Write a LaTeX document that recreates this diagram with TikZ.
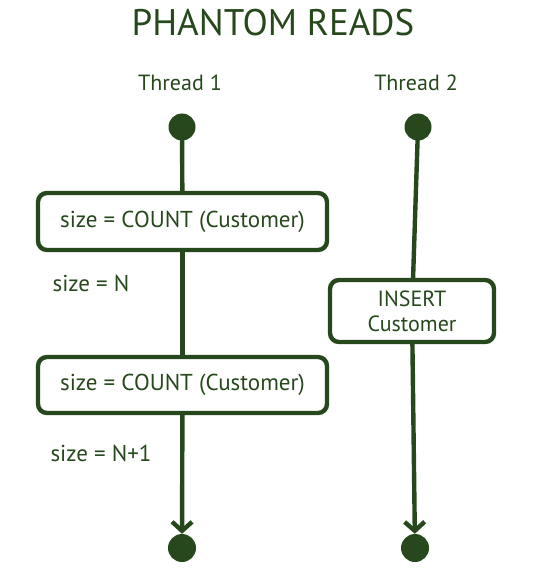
\documentclass[tikz,border=0pt]{standalone}
\usepackage{fontspec}
\setmainfont{PT Sans}
\usetikzlibrary{arrows.meta}
\definecolor{ink}{RGB}{38,72,28}
\begin{document}
\begin{tikzpicture}[x=1pt,y=-1pt,
  every node/.style={text=ink},
  flow/.style={draw=ink,line width=4.4pt,line cap=round},
  stepbox/.style={draw=ink,line width=4.4pt,rounded corners=9pt,inner sep=0pt,align=center,
    font=\fontsize{23}{25}\selectfont},
  dot/.style={circle,fill=ink,inner sep=0pt},
  lbl/.style={font=\fontsize{23}{25}\selectfont},
  tip/.style={-{Straight Barb[length=9pt,width=20pt,line width=4.4pt]}}]
\useasboundingbox (0,0) rectangle (556,572);
\node[font=\fontsize{37}{40}\selectfont] (title) at (273,23) {PHANTOM READS};
\node[font=\fontsize{22}{24}\selectfont] (th1) at (180,83) {Thread 1};
\node[font=\fontsize{22}{24}\selectfont] (th2) at (416,83) {Thread 2};
\node[dot,minimum size=27pt] (s1) at (182,127) {};
\node[dot,minimum size=27pt] (s2) at (418,127) {};
\node[stepbox,minimum width=289pt,minimum height=57pt] (b1) at (182.5,221.5)
  {size = COUNT (Customer)};
\node[stepbox,minimum width=289pt,minimum height=56pt] (b2) at (182.5,385)
  {size = COUNT (Customer)};
\node[stepbox,minimum width=164pt,minimum height=62pt,font=\fontsize{22}{25}\selectfont] (b3) at (412,311)
  {INSERT\\Customer};
\node[lbl] (n1) at (91,283) {size = N};
\node[lbl] (n2) at (101,453) {size = N+1};
\node[dot,minimum size=28pt] (e1) at (182,548) {};
\node[dot,minimum size=28pt] (e2) at (415,548) {};
\draw[flow] (s1) -- (b1);
\draw[flow] (b1) -- (b2);
\draw[flow,tip] (b2) -- (e1);
\draw[flow] (s2) -- (b3);
\draw[flow,tip] (b3) -- (e2);
\end{tikzpicture}
\end{document}
